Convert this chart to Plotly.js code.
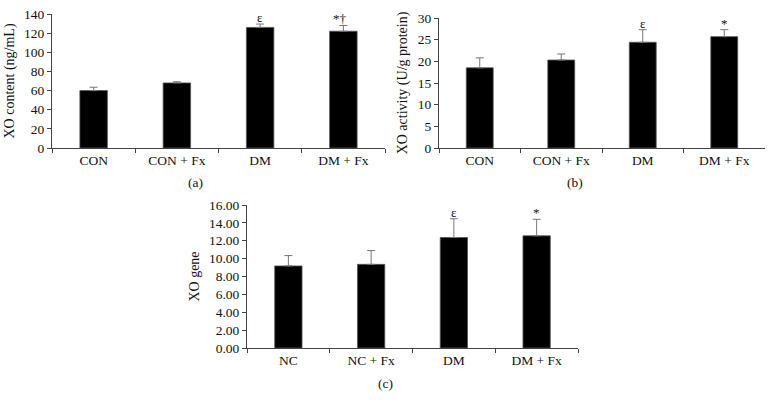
<!DOCTYPE html>
<html><head><meta charset="utf-8">
<script src="https://cdn.plot.ly/plotly-3.0.1.min.js"></script>
<style>body{margin:0}#c{width:772px;height:407px}</style>
</head><body><div id="c"></div>
<script>
const catsAB = ['CON', 'CON + Fx', 'DM', 'DM + Fx'];
const catsC = ['NC', 'NC + Fx', 'DM', 'DM + Fx'];
const valsA = [60, 68, 126, 122];
const errA = [3.5, 1.2, 3.5, 6];
const sigA = ['', '', 'ε', '*†'];
const valsB = [18.5, 20.3, 24.4, 25.7];
const errB = [2.3, 1.4, 2.9, 1.6];
const sigB = ['', '', 'ε', '*'];
const valsC = [9.18, 9.36, 12.36, 12.55];
const errC = [1.16, 1.54, 2.1, 1.85];
const sigC = ['', '', 'ε', '*'];

const FONT = 'Liberation Serif, Times New Roman, serif';
const FS = 13.5;
function bar(x, y, e, xa, ya) {
  return {type: 'bar', x: x, y: y, xaxis: xa, yaxis: ya,
    marker: {color: '#000', line: {color: '#555', width: 0.8}},
    error_y: {type: 'data', array: e, arrayminus: e.map(() => 0), symmetric: false,
      color: '#777', thickness: 1, width: 4},
    hoverinfo: 'skip', showlegend: false};
}
const data = [
  bar(catsAB, valsA, errA, 'x', 'y'),
  bar(catsAB, valsB, errB, 'x2', 'y2'),
  bar(catsC, valsC, errC, 'x3', 'y3')
];
function xax(dom, anchor) {
  return {domain: dom, anchor: anchor, type: 'category', range: [-0.5, 3.5],
    showline: true, linecolor: '#444', linewidth: 1, ticks: 'outside', ticklen: 4,
    tickcolor: '#444', tickson: 'boundaries', showgrid: false, zeroline: false,
    tickfont: {family: FONT, size: FS, color: '#111'}, fixedrange: true};
}
function yax(dom, anchor, range, dtick, fmt, title) {
  return {domain: dom, anchor: anchor, range: range, dtick: dtick, tickformat: fmt,
    showline: true, linecolor: '#444', linewidth: 1, ticks: 'outside', ticklen: 4,
    tickcolor: '#444', showgrid: false, zeroline: false,
    tickfont: {family: FONT, size: FS, color: '#111'},
    title: {text: title, font: {family: FONT, size: 14, color: '#111'}, standoff: 6}};
}
const annotations = [];
function sig(cats, vals, errs, sigs, xa, ya) {
  cats.forEach((c, i) => {
    if (sigs[i]) annotations.push({x: c, y: vals[i] + errs[i], xref: xa, yref: ya,
      text: sigs[i], showarrow: false, yanchor: 'bottom', yshift: -3,
      xshift: sigs[i].length > 1 ? -3 : 0,
      font: {family: FONT, size: 13, color: '#111'}});
  });
}
sig(catsAB, valsA, errA, sigA, 'x', 'y');
sig(catsAB, valsB, errB, sigB, 'x2', 'y2');
sig(catsC, valsC, errC, sigC, 'x3', 'y3');
[['(a)', 195, 182], ['(b)', 575, 182], ['(c)', 385, 383]].forEach(p => {
  annotations.push({text: p[0], x: p[1] / 772, y: 1 - p[2] / 407, xref: 'paper', yref: 'paper',
    showarrow: false, xanchor: 'center', yanchor: 'middle',
    font: {family: FONT, size: FS, color: '#111'}});
});
const layout = {
  width: 772, height: 407, margin: {l: 0, r: 0, t: 0, b: 0},
  paper_bgcolor: '#fff', plot_bgcolor: '#fff', bargap: 0.67,
  xaxis: xax([52 / 772, 385 / 772], 'y'),
  yaxis: yax([1 - 148 / 407, 1 - 14 / 407], 'x', [0, 140], 20, '', 'XO content (ng/mL)'),
  xaxis2: xax([439 / 772, 765 / 772], 'y2'),
  yaxis2: yax([1 - 148 / 407, 1 - 18 / 407], 'x2', [0, 30], 5, '', 'XO activity (U/g protein)'),
  xaxis3: xax([247 / 772, 578 / 772], 'y3'),
  yaxis3: yax([1 - 348 / 407, 1 - 205 / 407], 'x3', [0, 16], 2, '.2f', 'XO gene'),
  annotations: annotations
};
Plotly.newPlot('c', data, layout, {staticPlot: true, displayModeBar: false});
</script></body></html>
